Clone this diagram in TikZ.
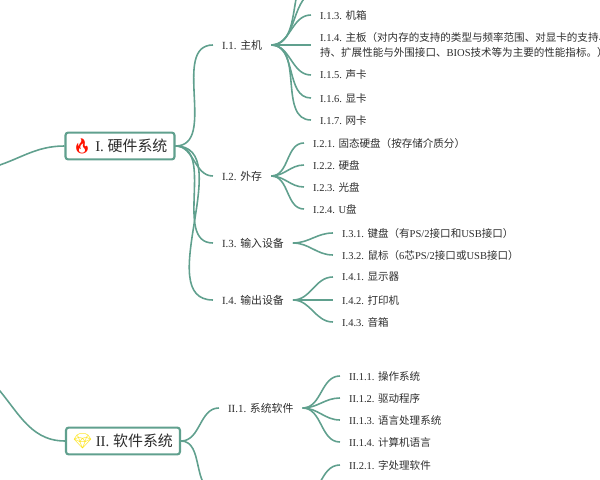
\documentclass[tikz,border=0pt]{standalone}
\usepackage{fontspec}
\setmainfont{Liberation Serif}
\newfontfamily\cjk{Noto Sans CJK SC}
\newfontfamily\emoji{Noto Emoji}
\usepackage{xcolor}
\usetikzlibrary{positioning}
\definecolor{branchgreen}{RGB}{96,160,142}
\definecolor{textgray}{RGB}{45,45,45}
\tikzset{
    rootbox/.style={
        rectangle,
        draw=branchgreen,
        line width=1.2pt,
        rounded corners=1.5pt,
        fill=white,
        text=textgray,
        inner xsep=4pt,
        minimum height=0.52cm,
        font=\fontsize{8.5}{10}\selectfont
    },
    topic/.style={
        anchor=west,
        inner sep=1pt,
        text=textgray,
        font=\fontsize{6.2}{7}\selectfont
    },
    leaf/.style={
        anchor=west,
        inner sep=1pt,
        text=textgray,
        align=left,
        font=\fontsize{6}{8}\selectfont
    },
    branch/.style={
        draw=branchgreen,
        line width=0.9pt,
        out=0,
        in=180
    }
}

\begin{document}
\begin{tikzpicture}[x=0.02cm, y=-0.02cm]
\useasboundingbox (0,0) rectangle (600,480);
\clip (0,0) rectangle (600,480);

% top level boxes
\node[rootbox] (hw) at (120,146) {{\emoji\color{red!85!orange}🔥} I. {\cjk 硬件系统}};
\node[rootbox] (sw) at (123,441) {{\emoji\color{yellow!85!orange}💎} II. {\cjk 软件系统}};
\coordinate (rootA) at (-10,168);
\coordinate (rootB) at (-10,380);
\draw[branch, out=15] (rootA) to (hw.west);
\draw[branch, out=-45] (rootB) to (sw.west);

% hardware
\node[topic] (host) at (220,45) {I.1. {\cjk 主机}};
\node[topic] (ext) at (220,176) {I.2. {\cjk 外存}};
\node[topic] (inp) at (220,243) {I.3. {\cjk 输入设备}};
\node[topic] (outp) at (220,300) {I.4. {\cjk 输出设备}};
\foreach \t in {host,ext,inp,outp}
    \draw[branch] (hw.east) to ([xshift=-4]\t.west);

\node[leaf] (h3) at (318,15) {I.1.3. {\cjk 机箱}};
\node[leaf] (h4) at (318,45) {I.1.4. {\cjk 主板（对内存的支持的类型与频率范围、对显卡的支持、}\\{\cjk 持、扩展性能与外围接口、}BIOS{\cjk 技术等为主要的性能指标。）}};
\node[leaf] (h5) at (318,75) {I.1.5. {\cjk 声卡}};
\node[leaf] (h6) at (318,98) {I.1.6. {\cjk 显卡}};
\node[leaf] (h7) at (318,120) {I.1.7. {\cjk 网卡}};
\coordinate (h1) at (318,-30);
\coordinate (h2) at (318,-8);
\foreach \t in {h1,h2}
    \draw[branch] ([xshift=4]host.east) to (\t);
\foreach \t in {h3,h4,h5,h6,h7}
    \draw[branch] ([xshift=4]host.east) to ([xshift=-4]\t.west);

\node[leaf] (e1) at (311,143) {I.2.1. {\cjk 固态硬盘（按存储介质分）}};
\node[leaf] (e2) at (311,165) {I.2.2. {\cjk 硬盘}};
\node[leaf] (e3) at (311,187) {I.2.3. {\cjk 光盘}};
\node[leaf] (e4) at (311,209) {I.2.4. U{\cjk 盘}};
\foreach \t in {e1,e2,e3,e4}
    \draw[branch] ([xshift=4]ext.east) to ([xshift=-4]\t.west);

\node[leaf] (i1) at (340,233) {I.3.1. {\cjk 键盘（有}PS/2{\cjk 接口和}USB{\cjk 接口）}};
\node[leaf] (i2) at (340,255) {I.3.2. {\cjk 鼠标（}6{\cjk 芯}PS/2{\cjk 接口或}USB{\cjk 接口）}};
\foreach \t in {i1,i2}
    \draw[branch] ([xshift=4]inp.east) to ([xshift=-4]\t.west);

\node[leaf] (o1) at (340,277) {I.4.1. {\cjk 显示器}};
\node[leaf] (o2) at (340,300) {I.4.2. {\cjk 打印机}};
\node[leaf] (o3) at (340,322) {I.4.3. {\cjk 音箱}};
\foreach \t in {o1,o2,o3}
    \draw[branch] ([xshift=4]outp.east) to ([xshift=-4]\t.west);

% software
\node[topic] (sys) at (226,408) {II.1. {\cjk 系统软件}};
\coordinate (app) at (215,490);
\draw[branch] (sw.east) to ([xshift=-4]sys.west);
\draw[branch] (sw.east) to (app);

\node[leaf] (s1) at (347,376) {II.1.1. {\cjk 操作系统}};
\node[leaf] (s2) at (347,398) {II.1.2. {\cjk 驱动程序}};
\node[leaf] (s3) at (347,420) {II.1.3. {\cjk 语言处理系统}};
\node[leaf] (s4) at (347,442) {II.1.4. {\cjk 计算机语言}};
\foreach \t in {s1,s2,s3,s4}
    \draw[branch] ([xshift=4]sys.east) to ([xshift=-4]\t.west);

\node[leaf] (a1) at (347,465) {II.2.1. {\cjk 字处理软件}};
\coordinate (appj) at (300,500);
\draw[branch] (appj) to ([xshift=-4]a1.west);
\end{tikzpicture}
\end{document}
